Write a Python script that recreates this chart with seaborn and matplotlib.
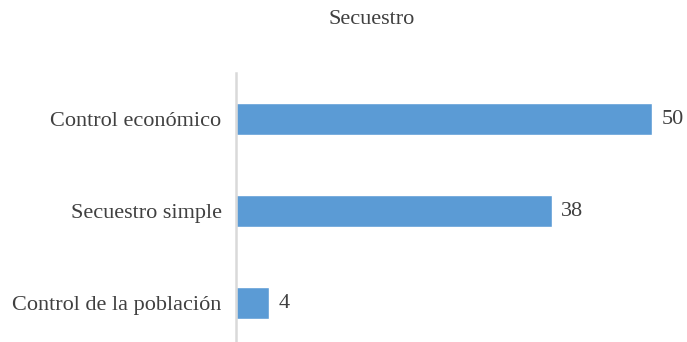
import matplotlib
matplotlib.use("Agg")
import matplotlib.pyplot as plt
import seaborn as sns
import pandas as pd

categories = ["Control económico", "Secuestro simple", "Control de la población"]
values = [50, 38, 4]
title = "Secuestro"

sns.set_theme(style="white")
plt.rcParams["font.family"] = ["Liberation Serif", "DejaVu Serif"]

df = pd.DataFrame({"categoria": categories, "valor": values})

W, H = 687, 342
fig = plt.figure(figsize=(W / 100, H / 100), dpi=100)
x0 = 235.5
ax = fig.add_axes([x0 / W, 0, (W - x0) / W, (H - 73) / H])

sns.barplot(data=df, x="valor", y="categoria", color="#5B9BD5", width=0.35,
            saturation=1, ax=ax, orient="h")

px_per_unit = 8.32
ax.set_xlim(0, (W - x0) / px_per_unit)
ax.set_ylim(-0.5 + (H - 73) / 92, -0.5)

for i, v in enumerate(values):
    ax.annotate(f"{v}", (v, i), xytext=(7, 0), textcoords="offset points",
                va="center", ha="left", fontsize=16, color="#404040")

for s in ["top", "right", "bottom"]:
    ax.spines[s].set_visible(False)
ax.spines["left"].set_color("#D9D9D9")
ax.spines["left"].set_linewidth(1.8)
ax.set_xticks([])
ax.set_xlabel("")
ax.set_ylabel("")
ax.tick_params(axis="y", length=0, pad=10, labelsize=16, labelcolor="#404040")

fig.text(372 / W, 1 - 20 / H, title, ha="center", va="center", fontsize=16, color="#404040")

fig.savefig("out.png", dpi=100)
